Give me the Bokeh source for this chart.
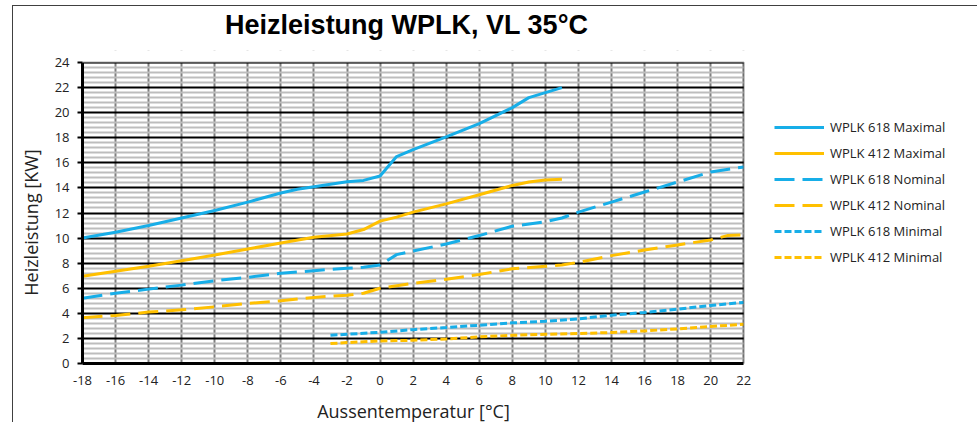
import math
from bokeh.plotting import figure
from bokeh.layouts import column, row
from bokeh.models import FixedTicker, Legend, LegendItem, Range1d, BoxAnnotation, Label
from bokeh.embed import file_html
from bokeh.resources import INLINE

# ---- data ----
x_618_max = [-18, -16, -14, -12, -10, -8, -6, -5, -4, -2, -1, 0, 1, 2, 4, 6, 8, 9, 10, 11]
y_618_max = [10.0, 10.47, 11.0, 11.6, 12.2, 12.87, 13.6, 13.9, 14.1, 14.5, 14.6, 14.95, 16.5, 17.05, 18.07, 19.13, 20.4, 21.2, 21.6, 22.0]

x_412_max = [-18, -16, -14, -12, -10, -8, -6, -4, -2, -1, 0, 1, 2, 4, 6, 8, 9, 10, 11]
y_412_max = [6.95, 7.35, 7.75, 8.2, 8.65, 9.13, 9.6, 10.07, 10.33, 10.68, 11.35, 11.67, 12.07, 12.73, 13.45, 14.2, 14.47, 14.63, 14.7]

x_618_nom = [-18, -16, -14, -12, -10, -8, -6, -4, -2, -1, 0, 1, 2, 4, 6, 8, 10, 11, 12, 14, 16, 18, 20, 22]
y_618_nom = [5.2, 5.6, 5.93, 6.25, 6.6, 6.87, 7.2, 7.4, 7.6, 7.67, 7.85, 8.68, 8.97, 9.53, 10.2, 10.95, 11.3, 11.6, 12.07, 12.87, 13.67, 14.47, 15.27, 15.67]

x_412_nom = [-18, -16, -14, -12, -10, -8, -6, -4, -2, -1, 0, 2, 4, 6, 8, 10, 11, 12, 14, 16, 18, 20, 21, 22]
y_412_nom = [3.65, 3.83, 4.1, 4.28, 4.52, 4.79, 5.0, 5.27, 5.45, 5.6, 6.0, 6.39, 6.72, 7.1, 7.55, 7.75, 7.85, 8.07, 8.6, 9.05, 9.45, 9.85, 10.2, 10.25]

x_618_min = [-3, -2, 0, 2, 4, 6, 8, 10, 12, 14, 16, 18, 20, 22]
y_618_min = [2.25, 2.33, 2.49, 2.7, 2.87, 3.05, 3.24, 3.37, 3.56, 3.85, 4.07, 4.33, 4.63, 4.87]

x_412_min = [-3, -2, 0, 2, 4, 6, 8, 10, 12, 14, 16, 18, 20, 22]
y_412_min = [1.59, 1.67, 1.8, 1.85, 1.96, 2.12, 2.25, 2.33, 2.39, 2.47, 2.6, 2.76, 2.95, 3.13]

x_ticks = [-18, -16, -14, -12, -10, -8, -6, -4, -2, 0, 2, 4, 6, 8, 10, 12, 14, 16, 18, 20, 22]
y_ticks = [0, 2, 4, 6, 8, 10, 12, 14, 16, 18, 20, 22, 24]

series_names = ["WPLK 618 Maximal", "WPLK 412 Maximal", "WPLK 618 Nominal",
                "WPLK 412 Nominal", "WPLK 618 Minimal", "WPLK 412 Minimal"]

TITLE = "Heizleistung WPLK,  VL 35°C"
X_LABEL = "Aussentemperatur [°C]"
Y_LABEL = "Heizleistung [KW]"

BLUE = "#17AEE8"
YELLOW = "#FFC000"
LABEL_FONT = "Open Sans"
TEXT_COLOR = "#222222"

X0, X1 = x_ticks[0], x_ticks[-1]
Y0, Y1 = y_ticks[0], y_ticks[-1]

# ---- pixel layout ----
YL_W = 38            # strip holding the y-axis title
MAIN_W = 926         # main figure width
BORDER_L = 30        # room for the y tick labels
DATA_W = 662         # px of the -18..22 data region
DATA_H = 301         # px of the 0..24 data region
TOP_PAD = 12         # frame pixels above the 24 line (room for the "24" label)
TITLE_H = 44
BOTTOM_B = 32
XL_H = 27

frame_w = MAIN_W - BORDER_L
x_end = X0 + (X1 - X0) * frame_w / DATA_W
y_end = Y1 + TOP_PAD * (Y1 - Y0) / DATA_H
main_h = DATA_H + TOP_PAD + BOTTOM_B


def strip(w, h):
    f = figure(width=w, height=h, output_backend="svg", toolbar_location=None,
               x_range=Range1d(0, 1), y_range=Range1d(0, 1),
               x_axis_type=None, y_axis_type=None, min_border=0)
    f.outline_line_color = None
    f.background_fill_color = "white"
    f.border_fill_color = "white"
    return f


# ---- title strip ----
p_title = strip(YL_W + MAIN_W, TITLE_H)
p_title.add_layout(Label(x=397, y=26, x_units="screen", y_units="screen", text=TITLE,
                         text_font="Liberation Sans", text_font_size="27px",
                         text_font_style="bold", text_color="#000000",
                         text_align="center", text_baseline="alphabetic"))

# ---- y title strip (its frame is aligned with the main frame's bottom) ----
p_yl = strip(YL_W, main_h)
p_yl.add_layout(Label(x=17, y=141, x_units="screen", y_units="screen", text=Y_LABEL,
                      angle=math.pi / 2, text_font=LABEL_FONT, text_font_size="18px",
                      text_color=TEXT_COLOR, text_align="center", text_baseline="middle"))

# ---- x title strip ----
p_xl = strip(YL_W + MAIN_W, XL_H)
p_xl.add_layout(Label(x=400, y=12, x_units="screen", y_units="screen", text=X_LABEL,
                      text_font=LABEL_FONT, text_font_size="18px", text_color=TEXT_COLOR,
                      text_align="center", text_baseline="middle"))

# ---- main chart ----
p = figure(width=MAIN_W, height=main_h, output_backend="svg", toolbar_location=None,
           x_range=Range1d(X0, x_end), y_range=Range1d(Y0, y_end),
           min_border_left=BORDER_L, min_border_right=0, min_border_top=0,
           min_border_bottom=BOTTOM_B)
p.background_fill_color = "white"
p.border_fill_color = "white"
p.outline_line_color = None

p.xaxis.ticker = FixedTicker(ticks=x_ticks)
p.xaxis.major_label_overrides = {t: str(t) for t in x_ticks}
minor_y = [t + k * 0.4 for t in y_ticks[:-1] for k in range(1, 5)]
p.yaxis.ticker = FixedTicker(ticks=y_ticks, minor_ticks=minor_y)
p.xaxis.bounds = (X0, X1)
p.yaxis.bounds = (Y0, Y1)

for ax in (p.xaxis[0], p.yaxis[0]):
    ax.axis_line_color = "black"
    ax.axis_line_width = 3
    ax.major_tick_line_color = "black"
    ax.major_tick_line_width = 2
    ax.minor_tick_line_color = None
    ax.major_label_text_font = LABEL_FONT
    ax.major_label_text_font_size = "13px"
    ax.major_label_text_color = TEXT_COLOR

p.xaxis.major_tick_in = 0
p.xaxis.major_tick_out = 0
p.xaxis.major_label_standoff = 12
p.yaxis.major_tick_in = 0
p.yaxis.major_tick_out = 5
p.yaxis.major_label_standoff = 8

p.xgrid.grid_line_color = "#808080"
p.xgrid.grid_line_width = 2
p.xgrid.bounds = (X0, X1)
p.ygrid.grid_line_color = "black"
p.ygrid.grid_line_width = 2
p.ygrid.minor_grid_line_color = "#bdbdbd"
p.ygrid.minor_grid_line_width = 2

r1 = p.line(x_618_max, y_618_max, line_color=BLUE, line_width=3)
r2 = p.line(x_412_max, y_412_max, line_color=YELLOW, line_width=3)
r3 = p.line(x_618_nom, y_618_nom, line_color=BLUE, line_width=3, line_dash="20 8")
r4 = p.line(x_412_nom, y_412_nom, line_color=YELLOW, line_width=3, line_dash="20 8")
r5 = p.line(x_618_min, y_618_min, line_color=BLUE, line_width=3, line_dash="7 3")
r6 = p.line(x_412_min, y_412_min, line_color=YELLOW, line_width=3, line_dash="7 3")

# white areas outside the data region (legend space), then the plot-area border
p.add_layout(BoxAnnotation(left=X1, fill_color="white", fill_alpha=1.0, line_color=None))
p.add_layout(BoxAnnotation(bottom=Y1, fill_color="white", fill_alpha=1.0, line_color=None))
p.add_layout(BoxAnnotation(left=X0, right=X1, bottom=Y0, top=Y1, fill_alpha=0,
                           line_color="black", line_width=2))

legend = Legend(items=[LegendItem(label=n, renderers=[r]) for n, r in
                       zip(series_names, [r1, r2, r3, r4, r5, r6])],
                location=(692, 93))
legend.glyph_width = 50
legend.glyph_height = 26
legend.label_height = 26
legend.spacing = 0
legend.padding = 0
legend.margin = 0
legend.label_standoff = 6
legend.label_text_font = LABEL_FONT
legend.label_text_font_size = "13px"
legend.label_text_color = TEXT_COLOR
legend.border_line_color = None
legend.background_fill_alpha = 0
p.add_layout(legend, "center")

layout = column(p_title, row(p_yl, p, spacing=0), p_xl, spacing=0,
                styles={"margin-left": "12px", "margin-top": "5px",
                        "border-left": "1px solid #404040", "border-top": "1px solid #404040"})

open("out.html", "w").write(file_html(layout, INLINE))
